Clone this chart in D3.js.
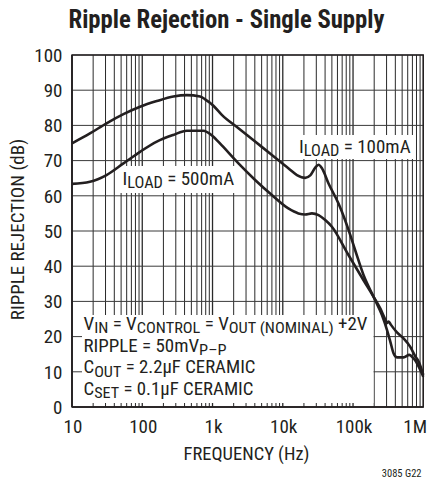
<!DOCTYPE html>
<html><head><meta charset="utf-8">
<script src="https://cdn.jsdelivr.net/npm/d3@7"></script>
<style>
html,body{margin:0;padding:0;background:#fff;}
svg{display:block;}
text{font-family:"Liberation Sans Narrow","Arial Narrow","Roboto Condensed",sans-serif;fill:#231f20;}
</style></head>
<body>
<svg id="chart" width="434" height="488"></svg>
<script>
// ---- data ----
const freq100 = [10,18,31,54,93,161,277,430,666,785,1030,1356,2340,4040,7000,12000,15900,20800,24600,29000,32300,36100,44800,62100,77400,86300,107000,141000,196000,258000,304000,339000,378000,422000,524000,632000,697000,769000,906000,1000000];
const rr100   = [74.9,77.7,80.6,83.2,85.3,86.9,88.2,88.6,88.2,87.4,85.6,83.0,79.2,75.4,71.6,67.8,65.9,65.1,65.8,68.0,68.8,67.8,63.5,57.8,53.0,50.3,44.6,37.5,31.3,26.1,21.9,18.6,15.2,14.1,14.1,14.8,14.2,13.2,10.5,8.6];
const freq500 = [10,18,31,54,93,161,277,430,740,1000,1356,2340,4040,7000,12000,16700,20800,26000,32300,40200,50000,82600,141000,196000,244000,287000,305000,322000,345000,422000,524000,653000,769000,858000,1000000];
const rr500   = [63.4,64.0,65.9,69.2,72.5,75.4,77.3,78.5,78.5,77.0,74.3,69.2,64.5,60.2,56.4,55.0,54.7,55.0,54.5,53.1,51.2,43.8,36.0,31.3,28.0,24.9,23.9,24.3,23.4,21.2,19.5,17.1,14.4,12.9,9.1];
const yTicks = [0,10,20,30,40,50,60,70,80,90,100];
const xTickVals = [10,100,1000,10000,100000,1000000];
const xTickLabels = ["10","100","1k","10k","100k","1M"];

const svg = d3.select("#chart");
const x = d3.scaleLog().domain([10,1e6]).range([72,423.3]);
const y = d3.scaleLinear().domain([0,100]).range([407,55]);

// grid
const minor = [];
for (let d=10; d<1e6; d*=10) for (let m=1; m<10; m++) minor.push(d*m);
minor.push(1e6);
const g = svg.append("g");
g.selectAll("line.v").data(minor).join("line")
  .attr("x1",d=>x(d)).attr("x2",d=>x(d)).attr("y1",y(0)).attr("y2",y(100))
  .attr("stroke","#2a2a2a").attr("stroke-width",d=>xTickVals.includes(d)?1.3:1);
g.selectAll("line.h").data(yTicks).join("line")
  .attr("x1",x(10)).attr("x2",x(1e6)).attr("y1",d=>y(d)).attr("y2",d=>y(d))
  .attr("stroke","#3a3a3a").attr("stroke-width",1);
svg.append("rect").attr("x",x(10)).attr("y",y(100)).attr("width",x(1e6)-x(10)).attr("height",y(0)-y(100))
  .attr("fill","none").attr("stroke","#231f20").attr("stroke-width",1.4);

// white label backgrounds
svg.append("rect").attr("x",82).attr("y",315).attr("width",291.5).attr("height",88).attr("fill","#fff");
svg.append("rect").attr("x",118).attr("y",166).attr("width",120).attr("height",27).attr("fill","#fff");
svg.append("rect").attr("x",295).attr("y",135).attr("width",120).attr("height",24).attr("fill","#fff");
// redraw left axis / bottom axis over boxes
svg.append("line").attr("x1",x(10)).attr("x2",x(10)).attr("y1",y(0)).attr("y2",y(100)).attr("stroke","#231f20").attr("stroke-width",1.4);
svg.append("line").attr("x1",x(10)).attr("x2",x(1e6)).attr("y1",y(0)).attr("y2",y(0)).attr("stroke","#231f20").attr("stroke-width",1.4);

// curves
const line = d3.line().x(d=>x(d[0])).y(d=>y(d[1])).curve(d3.curveMonotoneX);
svg.append("path").datum(freq100.map((f,i)=>[f,rr100[i]])).attr("d",line)
  .attr("fill","none").attr("stroke","#231f20").attr("stroke-width",2.6).attr("stroke-linejoin","round");
svg.append("path").datum(freq500.map((f,i)=>[f,rr500[i]])).attr("d",line)
  .attr("fill","none").attr("stroke","#231f20").attr("stroke-width",2.6).attr("stroke-linejoin","round");

// title
svg.append("text").attr("x",226.5).attr("y",28).attr("text-anchor","middle")
  .attr("font-size",25.5).attr("font-weight","bold").attr("textLength",316).attr("lengthAdjust","spacingAndGlyphs")
  .text("Ripple Rejection - Single Supply");

// y tick labels
svg.selectAll("text.yt").data(yTicks).join("text")
  .attr("x",62.5).attr("y",d=>y(d)).attr("dy","0.36em").attr("text-anchor","end")
  .attr("font-size",19).text(d=>d);
// x tick labels
svg.selectAll("text.xt").data(xTickVals).join("text")
  .attr("x",(d,i)=> i===5 ? 427 : x(d)+1).attr("y",433).attr("text-anchor",(d,i)=>i===5?"end":"middle")
  .attr("font-size",19).text((d,i)=>xTickLabels[i]);

// axis titles
svg.append("text").attr("x",246.5).attr("y",460).attr("text-anchor","middle").attr("font-size",18.5).text("FREQUENCY (Hz)");
svg.append("text").attr("transform","translate(23.5,229.5) rotate(-90)").attr("text-anchor","middle").attr("font-size",19).text("RIPPLE REJECTION (dB)");
svg.append("text").attr("x",421.5).attr("y",477).attr("text-anchor","end").attr("font-size",10.5).text("3085 G22");

// rich text helper (subscripts nearly full size, shifted down slightly)
function rich(xp, yp, parts, fs, width){
  const t = svg.append("text").attr("x",xp).attr("y",yp).attr("font-size",fs);
  let shifted = false;
  const sh = 3.2;
  parts.forEach(p=>{
    const sub = p[1]==="sub";
    const ts = t.append("tspan").text(p[0]);
    if (sub && !shifted){ ts.attr("dy",sh).attr("font-size",fs*0.86); shifted=true; }
    else if (sub){ ts.attr("font-size",fs*0.86); }
    else if (!sub && shifted){ ts.attr("dy",-sh); shifted=false; }
  });
  if (width) t.attr("textLength",width).attr("lengthAdjust","spacingAndGlyphs");
  return t;
}
rich(122.5,185,[["I"],["LOAD","sub"],[" = 500mA"]],19);
rich(299,152.5,[["I"],["LOAD","sub"],[" = 100mA"]],19);
rich(83.5,329.5,[["V"],["IN","sub"],[" = V"],["CONTROL","sub"],[" = V"],["OUT (NOMINAL)","sub"],[" +2V"]],17.6,284);
rich(83.5,351.5,[["RIPPLE = 50mV"],["P–P","sub"]],17.6,143);
rich(83.5,373.3,[["C"],["OUT","sub"],[" = 2.2µF CERAMIC"]],17.6,172);
rich(83.5,395,[["C"],["SET","sub"],[" = 0.1µF CERAMIC"]],17.6,170);
</script>
</body></html>
